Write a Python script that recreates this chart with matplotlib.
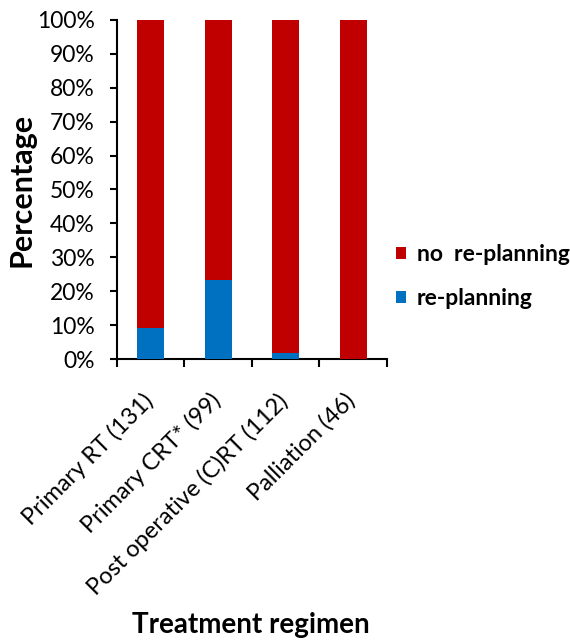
import matplotlib
matplotlib.use("Agg")
import matplotlib.pyplot as plt
import matplotlib.transforms as mtransforms
import numpy as np
from matplotlib.ticker import FixedLocator, PercentFormatter

# Data
categories = ["Primary RT (131)", "Primary CRT* (99)",
              "Post operative (C)RT (112)", "Palliation (46)"]
replanning = [9.2, 23.2, 1.8, 0.0]
no_replanning = [100 - v for v in replanning]

RED = "#C00000"
BLUE = "#0070C0"

plt.rcParams["font.family"] = ["Lato", "DejaVu Sans"]

fig = plt.figure(figsize=(5.7, 6.4), dpi=100)
ax = fig.add_axes([0.205, 0.439, 0.474, 0.530])

x = np.arange(len(categories))
ax.bar(x, replanning, width=0.4, color=BLUE, label="re-planning", zorder=3)
ax.bar(x, no_replanning, width=0.4, bottom=replanning, color=RED,
       label="no  re-planning", zorder=3)

ax.set_xlim(-0.5, len(categories) - 0.5)
ax.set_ylim(0, 100)
ax.set_yticks(np.arange(0, 101, 10))
ax.yaxis.set_major_formatter(PercentFormatter(decimals=0))
ax.tick_params(axis="y", direction="out", length=5, width=1.5,
               labelsize=16.5, pad=11)

# category labels at bar centres, boundary ticks between categories
ax.set_xticks(x)
ax.set_xticklabels(categories, rotation=45, ha="right", va="top",
                   rotation_mode="anchor", fontsize=17)
ax.tick_params(axis="x", which="major", length=0, pad=14)
ax.xaxis.set_minor_locator(FixedLocator(np.arange(-0.5, len(categories), 1)))
ax.tick_params(axis="x", which="minor", direction="out", length=6, width=1.5)
shift = mtransforms.ScaledTranslation(-0.09, -0.11, fig.dpi_scale_trans)
for lbl in ax.get_xticklabels():
    lbl.set_transform(lbl.get_transform() + shift)

for side in ["top", "right"]:
    ax.spines[side].set_visible(False)
for side in ["left", "bottom"]:
    ax.spines[side].set_linewidth(1.5)

ax.set_ylabel("Percentage", fontsize=22, fontweight="bold", labelpad=1)
fig.text(0.44, 1 - 625 / 640, "Treatment regimen", fontsize=20,
         fontweight="bold", ha="center", va="center")

handles, labels = ax.get_legend_handles_labels()
leg = fig.legend(handles[::-1], labels[::-1], loc="center left",
                 bbox_to_anchor=(396 / 570, 1 - 276.5 / 640), frameon=False,
                 fontsize=16.5, handlelength=0.45, handleheight=0.45,
                 handletextpad=0.45, labelspacing=1.0,
                 borderpad=0, borderaxespad=0)
for t in leg.get_texts():
    t.set_fontweight("bold")

fig.savefig("out.png", dpi=100)
